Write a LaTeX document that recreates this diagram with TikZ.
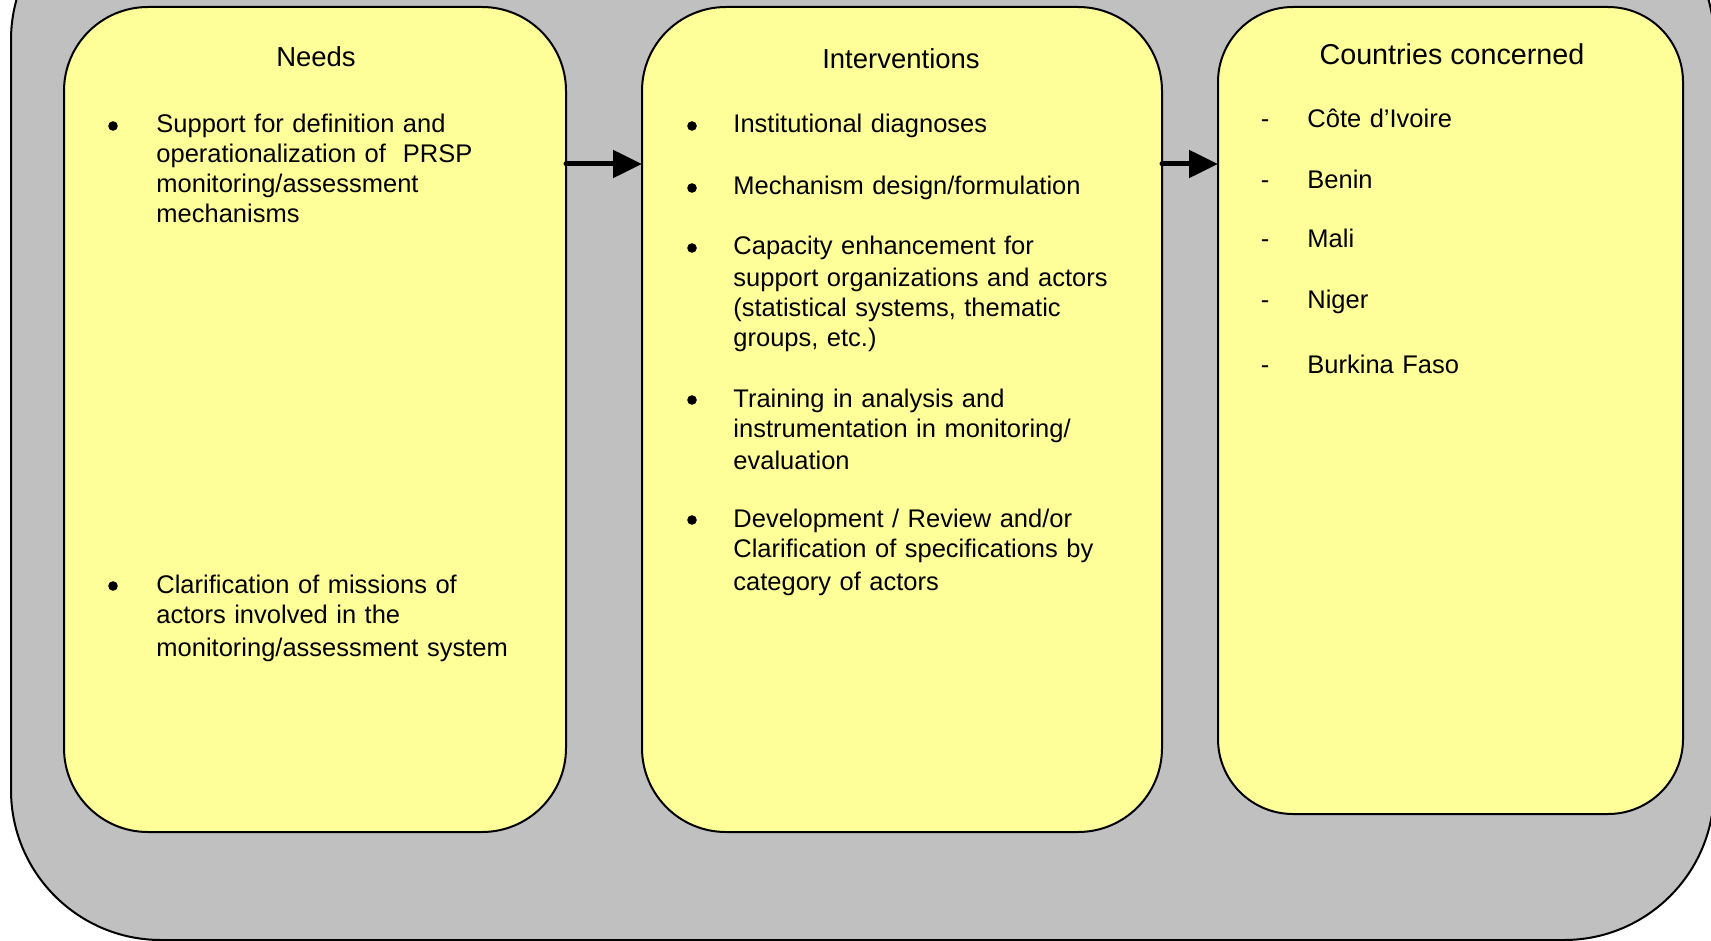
\documentclass[tikz,border=0pt]{standalone}
\usepackage{fontspec}
\setmainfont{Liberation Sans}
\usetikzlibrary{arrows.meta}
\definecolor{bgGray}{RGB}{192,192,192}
\definecolor{boxYellow}{RGB}{255,255,153}
\begin{document}
\begin{tikzpicture}[x={(0.5pt,0pt)},y={(0pt,-0.5pt)},
  panel/.style={draw=black, line width=1pt, fill=boxYellow, rounded corners=42pt, inner sep=0pt, outer sep=0pt},
  title/.style={anchor=base, inner sep=0pt, font=\fontsize{13.75pt}{16pt}\selectfont},
  item/.style={anchor=base west, align=left, text width=250pt, inner sep=0pt, font=\fontsize{12.75pt}{15pt}\selectfont},
  bul/.style={circle, fill=black, minimum size=4.8pt, inner sep=0pt},
  dashmark/.style={anchor=base, inner sep=0pt, font=\fontsize{12.75pt}{15pt}\selectfont},
  link/.style={line width=2.5pt, line cap=round, -{Triangle[length=14.5pt,width=13.5pt]}}]
\path[use as bounding box, clip] (0,0) rectangle (1711,941);
\draw[fill=bgGray, line width=1pt, rounded corners=75pt] (11,-110) rectangle (1714,940);

% panels
\node[panel, minimum width=251pt, minimum height=412.5pt] (needs) at (315,419.5) {};
\node[panel, minimum width=260pt, minimum height=412.5pt] (interv) at (902,419.5) {};
\node[panel, rounded corners=37.5pt, minimum width=232.5pt, minimum height=403.5pt] (countries) at (1450.5,410.5) {};

% titles
\node[title] (tneeds) at (316,67) {Needs};
\node[title] (tinterv) at (901,69) {Interventions};
\node[title, font=\fontsize{14.35pt}{16pt}\selectfont] (tcountries) at (1452,65) {Countries concerned};

% needs items
\node[bul] (nb1) at (113,126) {};
\node[item] (n1) at (156,133) {Support for definition and\\operationalization of~ PRSP\\monitoring/assessment\\mechanisms};
\node[bul] (nb2) at (113,586) {};
\node[item] (n2) at (156,593) {Clarification of missions of\\actors involved in the\\[1.5pt]monitoring/assessment system};

% interventions items
\node[bul] (ib1) at (692,126) {};
\node[item] (i1) at (733,133) {Institutional diagnoses};
\node[bul] (ib2) at (692,188) {};
\node[item] (i2) at (733,195) {Mechanism design/formulation};
\node[bul] (ib3) at (692,248) {};
\node[item] (i3) at (733,255) {Capacity enhancement for\\[1pt]support organizations and actors\\(statistical systems, thematic\\groups, etc.)};
\node[bul] (ib4) at (692,400) {};
\node[item] (i4) at (733,407) {Training in analysis and\\instrumentation in monitoring/\\[1pt]evaluation};
\node[bul] (ib5) at (692,520) {};
\node[item] (i5) at (733,527) {Development / Review and/or\\Clarification of specifications by\\[1.5pt]category of actors};

% countries items
\node[dashmark] (d1) at (1265,128) {-};
\node[item] (c1) at (1307,128) {Côte d’Ivoire};
\node[dashmark] (d2) at (1265,189) {-};
\node[item] (c2) at (1307,189) {Benin};
\node[dashmark] (d3) at (1265,248) {-};
\node[item] (c3) at (1307,248) {Mali};
\node[dashmark] (d4) at (1265,308) {-};
\node[item] (c4) at (1307,308) {Niger};
\node[dashmark] (d5) at (1265,373) {-};
\node[item] (c5) at (1307,373) {Burkina Faso};

% connectors
\coordinate (ay) at (0,164);
\draw[link] (needs.east |- ay) -- (interv.west |- ay);
\draw[link] (interv.east |- ay) -- (countries.west |- ay);
\end{tikzpicture}
\end{document}
